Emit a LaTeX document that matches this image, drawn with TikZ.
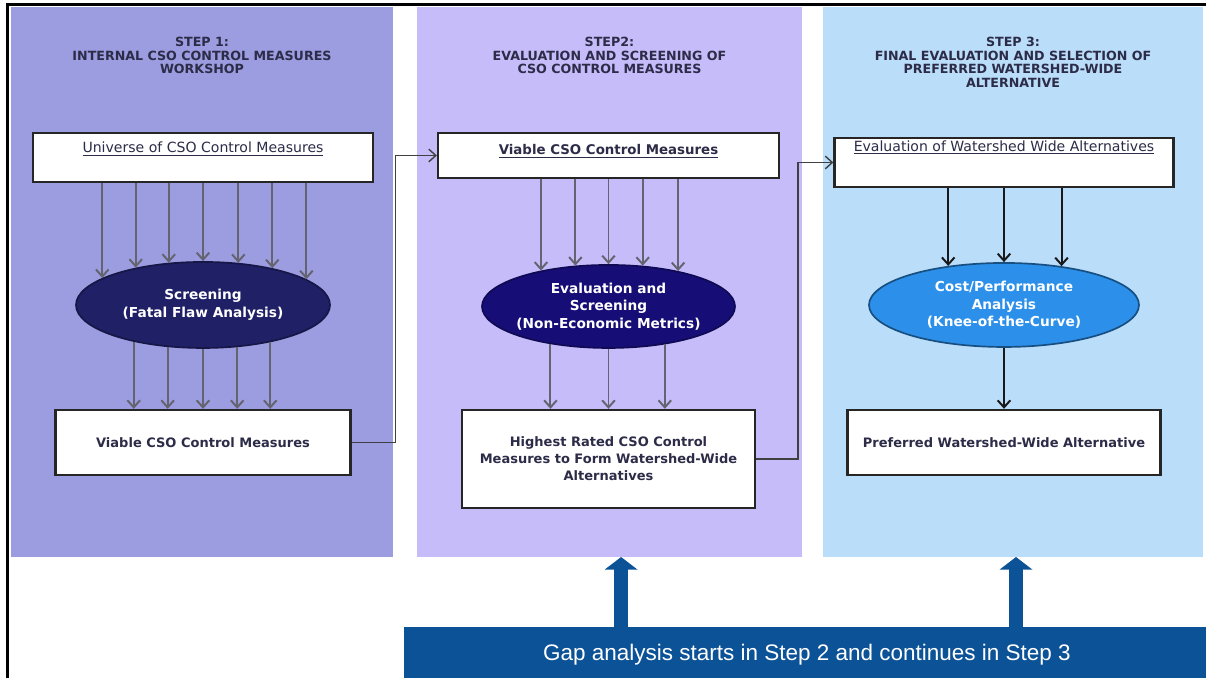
\documentclass[tikz,border=0pt]{standalone}
\usepackage{fontspec}
\setmainfont{DejaVu Sans}
\newfontfamily\gapfont{Liberation Sans}
\usetikzlibrary{arrows.meta, shapes, positioning, calc}
\definecolor{stepone}{RGB}{156,156,224}
\definecolor{steptwo}{RGB}{198,188,250}
\definecolor{stepthree}{RGB}{186,221,250}
\definecolor{navy}{RGB}{32,32,102}
\definecolor{indigo}{RGB}{22,14,118}
\definecolor{skyblue}{RGB}{44,144,234}
\definecolor{gapblue}{RGB}{12,82,150}
\definecolor{grey}{RGB}{100,100,112}
\definecolor{ink}{RGB}{44,44,72}

\tikzset{
  panel/.style={rectangle, inner sep=0pt, outer sep=0pt, minimum height=13.75cm},
  steptitle/.style={align=center, inner sep=0pt, text=ink, font=\bfseries\fontsize{9}{9.6}\selectfont},
  box/.style={rectangle, draw=black!85, line width=1.6pt, fill=white, inner sep=0pt, text=ink, align=center},
  oval/.style={ellipse, line width=1.2pt, inner xsep=-3pt, inner ysep=0pt, text=white, align=center, font=\bfseries\fontsize{9.75}{12.5}\selectfont},
  flow/.style={->, draw=grey, line width=1.4pt},
  link/.style={->, draw=black!75, line width=1pt},
  gaparrow/.style={draw=gapblue, line width=10.5pt, -{Triangle[length=9pt,width=23pt]}}
}

\begin{document}
\begin{tikzpicture}[>={Straight Barb[length=5pt,width=9pt]}]
        \useasboundingbox (0,0) rectangle (30.15,-16.95);

        % step panels
        \node[panel, fill=stepone, minimum width=9.55cm] (p1) at (5.05,-7.05) {};
        \node[panel, fill=steptwo, minimum width=9.625cm] (p2) at (15.2375,-7.05) {};
        \node[panel, fill=stepthree, minimum width=9.5cm] (p3) at (25.325,-7.05) {};

        \draw[line width=2.1pt] (0.1875,-16.95) |- (30.15,-0.1175);

        \node[steptitle, below=0.75cm of p1.north] (t1) {STEP 1:\\INTERNAL CSO CONTROL MEASURES\\WORKSHOP};
        \node[steptitle, below=0.75cm of p2.north] (t2) {STEP2:\\EVALUATION AND SCREENING OF\\CSO CONTROL MEASURES};
        \node[steptitle, below=0.75cm of p3.north] (t3) {STEP 3:\\FINAL EVALUATION AND SELECTION OF\\PREFERRED WATERSHED-WIDE\\ALTERNATIVE};

        % top boxes
        \node[box, minimum width=8.5cm, text height=0.5cm, text depth=0.725cm, font=\fontsize{10}{12}\selectfont] (u1) at (5.075,-3.9375) {\underline{Universe of CSO Control Measures}};
        \node[box, minimum width=8.525cm, text height=0.55cm, text depth=0.575cm, font=\bfseries\fontsize{9.5}{12}\selectfont] (u2) at (15.2125,-3.8875) {\underline{Viable CSO Control Measures}};
        \node[box, minimum width=8.475cm, text height=0.33cm, text depth=0.895cm, font=\fontsize{10}{12}\selectfont] (u3) at (25.1,-4.0625) {\underline{Evaluation of Watershed Wide Alternatives}};

        % ellipses
        \node[oval, fill=navy, draw=navy!70!black, minimum width=6.35cm, minimum height=2.15cm, below=1.95cm of u1] (e1) {Screening\\(Fatal Flaw Analysis)};
        \node[oval, fill=indigo, draw=indigo!70!black, minimum width=6.325cm, minimum height=2.075cm, below=2.125cm of u2] (e2) {Evaluation and\\Screening\\(Non-Economic Metrics)};
        \node[oval, fill=skyblue, draw=skyblue!55!black, minimum width=6.75cm, minimum height=2.1cm, below=1.85cm of u3] (e3) {Cost/Performance\\Analysis\\(Knee-of-the-Curve)};

        % bottom boxes
        \node[box, minimum width=7.375cm, minimum height=1.625cm, below=1.5cm of e1, font=\bfseries\fontsize{9.25}{12}\selectfont] (l1) {Viable CSO Control Measures};
        \node[box, minimum width=7.325cm, minimum height=2.45cm, below=1.5cm of e2, font=\bfseries\fontsize{9.25}{12}\selectfont] (l2) {Highest Rated CSO Control\\Measures to Form Watershed-Wide\\Alternatives};
        \node[box, minimum width=7.825cm, minimum height=1.625cm, below=1.525cm of e3, font=\bfseries\fontsize{9.25}{12}\selectfont] (l3) {Preferred Watershed-Wide Alternative};

        % gap bar
        \node[rectangle, fill=gapblue, text=white, inner sep=0pt, minimum width=20.15cm, minimum height=1.4cm, font=\gapfont\fontsize{16}{18}\selectfont] (gap) at (20.175,-16.375) {Gap analysis starts in Step 2 and continues in Step 3};

        % step 1 arrows
        \draw[flow] (e1.165.9 |- u1.south) -- (e1.165.9);
        \draw[flow] (e1.151.9 |- u1.south) -- (e1.151.9);
        \draw[flow] (e1.129.4 |- u1.south) -- (e1.129.4);
        \draw[flow] (e1.90 |- u1.south) -- (e1.90);
        \draw[flow] (e1.50.6 |- u1.south) -- (e1.50.6);
        \draw[flow] (e1.28.1 |- u1.south) -- (e1.28.1);
        \draw[flow] (e1.14.1 |- u1.south) -- (e1.14.1);

        \draw[flow] (e1.208.1) -- (e1.208.1 |- l1.north);
        \draw[flow] (e1.230.6) -- (e1.230.6 |- l1.north);
        \draw[flow] (e1.270) -- (e1.270 |- l1.north);
        \draw[flow] (e1.309.4) -- (e1.309.4 |- l1.north);
        \draw[flow] (e1.331.9) -- (e1.331.9 |- l1.north);

        % step 2 arrows
        \draw[flow] (e2.152.3 |- u2.south) -- (e2.152.3);
        \draw[flow] (e2.129.9 |- u2.south) -- (e2.129.9);
        \draw[flow] (e2.90 |- u2.south) -- (e2.90);
        \draw[flow] (e2.50.1 |- u2.south) -- (e2.50.1);
        \draw[flow] (e2.27.7 |- u2.south) -- (e2.27.7);

        \draw[flow] (e2.213.6) -- (e2.213.6 |- l2.north);
        \draw[flow] (e2.270) -- (e2.270 |- l2.north);
        \draw[flow] (e2.326.4) -- (e2.326.4 |- l2.north);

        % step 3 arrows
        \draw[flow, draw=black!90] (e3.145.7 |- u3.south) -- (e3.145.7);
        \draw[flow, draw=black!90] (e3.90 |- u3.south) -- (e3.90);
        \draw[flow, draw=black!90] (e3.34.3 |- u3.south) -- (e3.34.3);

        \draw[flow, draw=black!90] (e3.270) -- (e3.270 |- l3.north);

        % between steps
        \draw[link] (l1.east) -- ++(1.1,0) |- (u2.west);
        \draw[link] (l2.east) -- ++(1.05,0) |- (u3.west);

        \draw[gaparrow] ([xshift=2.9mm]p2.south |- gap.north) -- ([xshift=2.9mm]p2.south);
        \draw[gaparrow] ([xshift=0.75mm]p3.south |- gap.north) -- ([xshift=0.75mm]p3.south);

    \end{tikzpicture}
\end{document}
